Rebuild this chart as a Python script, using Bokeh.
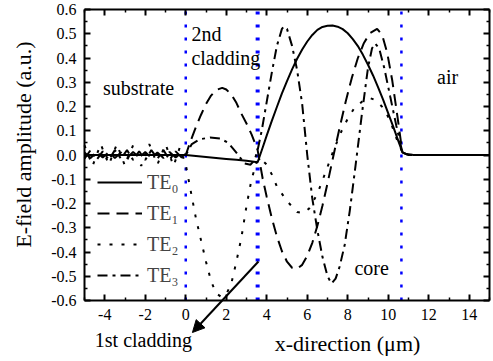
from bokeh.plotting import figure
from bokeh.models import (Range1d, LinearAxis, FixedTicker, Label, Arrow, NormalHead,
                          Legend, LegendItem)
from bokeh.embed import file_html
from bokeh.resources import INLINE

FONT = "Liberation Serif"

# ---------------- data ----------------
x_lim = [-5, 15]
y_lim = [-0.6, 0.6]
x_ticks = [-4, -2, 0, 2, 4, 6, 8, 10, 12, 14]
x_tick_labels = ["-4", "-2", "0", "2", "4", "6", "8", "10", "12", "14"]
x_minor = [-5, -3, -1, 1, 3, 5, 7, 9, 11, 13, 15]
y_ticks = [-0.6, -0.5, -0.4, -0.3, -0.2, -0.1, 0.0, 0.1, 0.2, 0.3, 0.4, 0.5, 0.6]
y_tick_labels = ["-0.6", "-0.5", "-0.4", "-0.3", "-0.2", "-0.1", "0.0",
                 "0.1", "0.2", "0.3", "0.4", "0.5", "0.6"]
y_minor = [-0.55, -0.45, -0.35, -0.25, -0.15, -0.05, 0.05, 0.15, 0.25, 0.35, 0.45, 0.55]

boundaries = [0.0, 3.55, 10.65]          # layer interfaces (um)
boundary_widths = [2.5, 4, 2.5]

te0_x = [-5, -4, -3, -2, -1, 0, 0.5, 1, 1.5, 2, 2.5, 3, 3.55,
         3.8, 4.0, 4.25, 4.5, 4.75, 5.0, 5.25, 5.5, 5.75, 6.0, 6.25, 6.5, 6.75, 7.0,
         7.25, 7.5, 7.75, 8.0, 8.25, 8.5, 8.75, 9.0, 9.25, 9.5, 9.75, 10.0, 10.25, 10.5,
         10.7, 10.9, 11.2, 12, 13, 14, 15]
te0_y = [0, 0, 0, 0, 0, 0, -0.004, -0.008, -0.012, -0.016, -0.02, -0.024, -0.03,
         0.031, 0.081, 0.141, 0.198, 0.254, 0.305, 0.353, 0.397, 0.435, 0.468, 0.495, 0.516, 0.528, 0.533,
         0.534, 0.529, 0.519, 0.502, 0.478, 0.449, 0.413, 0.372, 0.328, 0.279, 0.227, 0.172, 0.116, 0.057,
         0.012, 0.004, 0.001, 0, 0, 0, 0]

te1_x = [-5, -4.7, -4.4, -4.1, -3.8, -3.5, -3.2, -2.9, -2.6, -2.3, -2.0, -1.7, -1.4, -1.1, -0.8, -0.5, -0.2,
         0, 0.25, 0.5, 0.75, 1.0, 1.25, 1.5, 1.8, 2.0, 2.25, 2.5, 2.75, 3.0, 3.25, 3.55,
         3.8, 4.0, 4.25, 4.5, 4.75, 5.0, 5.25, 5.5, 5.75, 6.0, 6.25, 6.5, 6.75, 7.0, 7.3,
         7.6, 7.9, 8.2, 8.5, 8.8, 9.1, 9.45, 9.7, 9.95, 10.2, 10.45, 10.7,
         11, 12, 13, 14, 15]
te1_y = [0.01, -0.012, 0.012, -0.01, 0.012, -0.012, 0.01, -0.012, 0.012, -0.01, 0.012, -0.012, 0.01, -0.012, 0.012, -0.01, 0.008,
         0.0, 0.06, 0.115, 0.165, 0.21, 0.245, 0.268, 0.277, 0.27, 0.25, 0.215, 0.17, 0.13, 0.085, 0.02,
         -0.098, -0.173, -0.26, -0.336, -0.397, -0.44, -0.465, -0.469, -0.453, -0.416, -0.362, -0.292, -0.209, -0.117, 0.0,
         0.113, 0.221, 0.318, 0.40, 0.462, 0.503, 0.52, 0.495, 0.421, 0.306, 0.161, 0.01,
         0, 0, 0, 0, 0]

te2_x = [-5, -4.6, -4.2, -3.8, -3.4, -3.0, -2.6, -2.2, -1.8, -1.4, -1.0, -0.6, -0.3,
         0, 0.25, 0.5, 0.75, 1.0, 1.25, 1.5, 1.75, 2.0, 2.25, 2.5, 2.75, 3.0, 3.25, 3.5,
         3.7, 4.0, 4.25, 4.5, 5.0, 5.5, 5.8, 6.1, 6.5, 7.0, 7.3, 7.7, 8.0, 8.3, 8.7, 9.1, 9.4,
         9.8, 10.1, 10.4, 10.7,
         11, 12, 13, 14, 15]
te2_y = [0.04, -0.045, 0.045, -0.04, 0.045, -0.045, 0.04, -0.045, 0.045, -0.04, 0.045, -0.045, 0.03,
         -0.04, -0.15, -0.26, -0.35, -0.44, -0.52, -0.57, -0.585, -0.575, -0.53, -0.44, -0.34, -0.21, -0.10, -0.03,
         -0.015, -0.04, -0.08, -0.13, -0.19, -0.235, -0.24, -0.22, -0.16, -0.05, 0.02, 0.10, 0.15, 0.19, 0.22, 0.235, 0.225,
         0.19, 0.14, 0.07, 0.01,
         0, 0, 0, 0, 0]

te3_x = [-5, -4.7, -4.4, -4.1, -3.8, -3.5, -3.2, -2.9, -2.6, -2.3, -2.0, -1.7, -1.4, -1.1, -0.8, -0.5, -0.2,
         0, 0.3, 0.7, 1.2, 1.7, 2.1, 2.5, 2.9, 3.2, 3.4, 3.55,
         3.75, 4.0, 4.25, 4.5, 4.75, 4.85, 5.0, 5.25, 5.5, 5.75,
         6.0, 6.25, 6.5, 6.75, 7.0, 7.2, 7.4, 7.6, 7.85, 8.1,
         8.3, 8.45, 8.7, 9.0, 9.2, 9.35, 9.55, 9.8, 10.1, 10.4, 10.7,
         11, 12, 13, 14, 15]
te3_y = [-0.015, 0.02, -0.02, 0.015, -0.02, 0.02, -0.015, 0.02, -0.02, 0.015, -0.02, 0.02, -0.015, 0.02, -0.02, 0.015, -0.01,
         0.0, 0.045, 0.065, 0.072, 0.068, 0.05, 0.01, -0.035, -0.04, -0.02, 0.02,
         0.10, 0.22, 0.34, 0.45, 0.52, 0.53, 0.52, 0.45, 0.35, 0.21,
         0.0, -0.18, -0.31, -0.42, -0.50, -0.53, -0.51, -0.46, -0.37, -0.23,
         -0.10, 0.0, 0.17, 0.36, 0.44, 0.46, 0.44, 0.36, 0.24, 0.12, 0.01,
         0, 0, 0, 0, 0]

mode_labels = ["TE\u2080", "TE\u2081", "TE\u2082", "TE\u2083"]

# ---------------- figure ----------------
# The frame fills the whole canvas; the axes are pinned at the box edges so that
# texts and the arrow outside the box are not clipped.
W, H = 493, 361
BOX_L, BOX_R, BOX_T, BOX_B = 84, 489, 9, 300
sx = (x_lim[1] - x_lim[0]) / (BOX_R - BOX_L)
sy = (y_lim[1] - y_lim[0]) / (BOX_B - BOX_T)
xr = Range1d(x_lim[0] - BOX_L * sx, x_lim[1] + (W - BOX_R) * sx)
yr = Range1d(y_lim[0] - (H - BOX_B) * sy, y_lim[1] + BOX_T * sy)

p = figure(width=W, height=H, x_range=xr, y_range=yr,
           output_backend="svg", toolbar_location=None,
           min_border_left=0, min_border_right=0, min_border_top=0, min_border_bottom=0,
           x_axis_location=None, y_axis_location=None)
p.xgrid.visible = False
p.ygrid.visible = False
p.background_fill_color = "white"
p.border_fill_color = "white"
p.outline_line_color = None

xt = FixedTicker(ticks=x_ticks, minor_ticks=x_minor)
yt = FixedTicker(ticks=y_ticks, minor_ticks=y_minor)


def make_axis(ticker, labels, loc, bounds, overrides=None):
    ax = LinearAxis(ticker=ticker, fixed_location=loc, bounds=tuple(bounds))
    ax.axis_line_width = 2
    ax.axis_line_color = "black"
    ax.major_tick_in = 6
    ax.major_tick_out = 0
    ax.minor_tick_in = 3
    ax.minor_tick_out = 0
    ax.major_tick_line_width = 2
    ax.minor_tick_line_width = 1.5
    if labels:
        ax.major_label_text_font = FONT
        ax.major_label_text_font_size = "16px"
        ax.major_label_text_color = "black"
        ax.major_label_standoff = 8
        ax.major_label_overrides = overrides
    else:
        ax.major_label_text_color = None
        ax.major_label_text_font_size = "0px"
        ax.major_label_standoff = 0
    return ax


p.add_layout(make_axis(xt, True, y_lim[0], x_lim,
                       {t: l for t, l in zip(x_ticks, x_tick_labels)}), "below")
p.add_layout(make_axis(yt, True, x_lim[0], y_lim,
                       {t: l for t, l in zip(y_ticks, y_tick_labels)}), "left")
p.add_layout(make_axis(xt, False, y_lim[1], x_lim), "above")
p.add_layout(make_axis(yt, False, x_lim[1], y_lim), "right")

# layer boundaries
for b, w in zip(boundaries, boundary_widths):
    p.segment(x0=[b], y0=[y_lim[0]], x1=[b], y1=[y_lim[1]],
              line_color="#0000FF", line_width=w, line_dash="3 10")

r0 = p.line(te0_x, te0_y, line_color="black", line_width=2)
r1 = p.line(te1_x, te1_y, line_color="black", line_width=2, line_dash="12 7")
r2 = p.line(te2_x, te2_y, line_color="black", line_width=2, line_dash="3 9")
r3 = p.line(te3_x, te3_y, line_color="black", line_width=2, line_dash="10 5 3 5")

legend = Legend(items=[LegendItem(label=mode_labels[i], renderers=[r])
                       for i, r in enumerate([r0, r1, r2, r3])],
                location=(97, 74), glyph_width=45, glyph_height=24, spacing=7,
                padding=0, margin=0, label_standoff=5,
                label_text_font=FONT, label_text_font_size="20px",
                background_fill_alpha=0, border_line_color=None)
p.add_layout(legend)


def lab(x, y, t, align="left", base="alphabetic", angle=0.0, size="20px"):
    p.add_layout(Label(x=x, y=y, text=t, text_align=align, text_baseline=base,
                       angle=angle, text_font=FONT, text_font_size=size, text_color="black"))


lab(-2.33, 0.278, "substrate", align="center")
lab(0.28, 0.50, "2nd")
lab(0.28, 0.402, "cladding")
lab(12.93, 0.32, "air", align="center")
lab(8.33, -0.468, "core")
lab(-2.09, -0.761, "1st cladding", align="center", base="middle")
lab(7.99, -0.777, "x-direction (\u03bcm)", align="center", base="middle", size="22px")
lab(-8.01, 0.043, "E-field amplitude (a.u.)", align="center", base="middle",
    angle=1.5707963, size="22px")

p.add_layout(Arrow(end=NormalHead(size=12, fill_color="black", line_color="black"),
                   x_start=3.59, y_start=-0.439, x_end=0.33, y_end=-0.732,
                   line_color="black", line_width=2))

open("out.html", "w").write(file_html(p, INLINE))
